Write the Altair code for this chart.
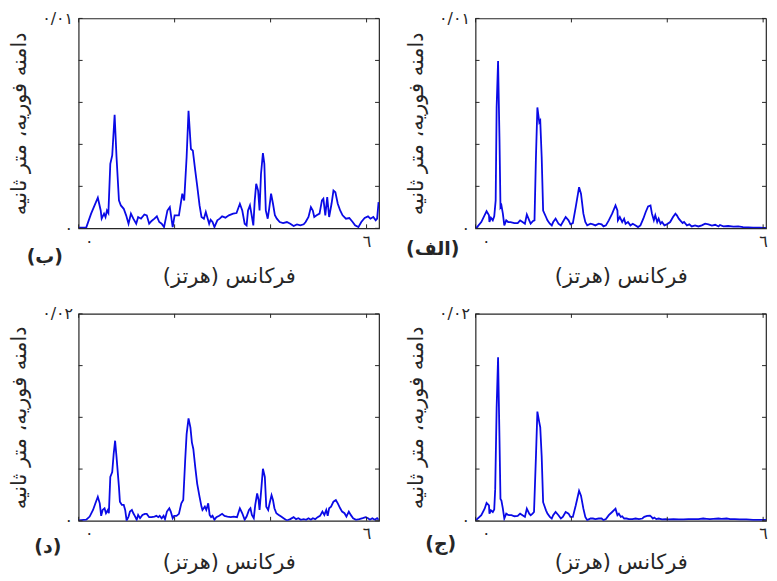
import altair as alt
import pandas as pd

FONT = "DejaVu Sans"
TC = "#262626"
LINE = "#0a0ae6"

# ---------------- data (frequency in Hz, Fourier amplitude in 1e-3 m/s) ----------------
# panel (ب) – top left
b_freq = [0.00, 0.16, 0.26, 0.40, 0.46, 0.48, 0.53, 0.56, 0.59, 0.62,
          0.66, 0.70, 0.75, 0.79, 0.84, 0.88, 0.94, 0.99, 1.04, 1.09,
          1.14, 1.20, 1.24, 1.30, 1.37, 1.42, 1.47, 1.52, 1.58, 1.63,
          1.68, 1.73, 1.78, 1.85, 1.90, 1.96, 2.00, 2.09, 2.16, 2.20,
          2.25, 2.29, 2.34, 2.38, 2.43, 2.47, 2.52, 2.56, 2.61, 2.65,
          2.69, 2.72, 2.75, 2.79, 2.83, 2.89, 2.94, 2.99, 3.06, 3.13,
          3.22, 3.29, 3.36, 3.41, 3.46, 3.50, 3.53, 3.57, 3.60, 3.64,
          3.67, 3.70, 3.74, 3.77, 3.80, 3.84, 3.87, 3.90, 3.94, 3.97,
          4.01, 4.05, 4.09, 4.13, 4.19, 4.26, 4.34, 4.41, 4.48, 4.55,
          4.62, 4.69, 4.73, 4.79, 4.84, 4.88, 4.91, 4.96, 5.02, 5.07,
          5.10, 5.14, 5.18, 5.22, 5.27, 5.31, 5.35, 5.40, 5.45, 5.50,
          5.57, 5.64, 5.71, 5.76, 5.83, 5.89, 5.96, 6.03, 6.08, 6.14,
          6.19, 6.22, 6.25]
b_amp = [0.03, 0.05, 0.70, 1.46, 0.85, 0.46, 0.70, 0.54, 0.85, 0.73,
         3.07, 3.47, 5.41, 3.39, 1.33, 1.09, 0.93, 0.62, 0.22, 0.70,
         0.46, 0.22, 0.54, 0.46, 0.66, 0.62, 0.22, 0.35, 0.46, 0.57,
         0.30, 0.22, 0.06, 0.85, 1.01, 0.06, 0.62, 0.62, 1.65, 1.33,
         3.39, 5.60, 3.78, 3.70, 2.75, 2.04, 1.09, 0.54, 0.46, 0.78,
         0.46, 0.22, 0.41, 0.30, 0.06, 0.38, 0.46, 0.57, 0.51, 0.62,
         0.70, 0.73, 1.17, 0.85, 0.22, 0.14, 0.85, 1.09, 0.70, 0.14,
         1.33, 2.12, 1.80, 0.85, 2.59, 3.58, 3.07, 0.85, 0.46, 0.93,
         1.65, 1.17, 0.62, 0.46, 0.30, 0.25, 0.30, 0.22, 0.11, 0.19,
         0.14, 0.19, 0.30, 0.54, 1.01, 0.85, 0.54, 0.62, 0.70, 1.33,
         1.41, 0.62, 1.49, 0.54, 1.17, 1.80, 1.72, 1.17, 0.85, 0.62,
         0.46, 0.49, 0.30, 0.14, 0.06, 0.30, 0.49, 0.57, 0.46, 0.54,
         0.38, 0.46, 1.25]

# panel (الف) – top right
alef_freq = [0.01, 0.12, 0.23, 0.28, 0.29, 0.32, 0.36, 0.39, 0.42, 0.44,
             0.47, 0.50, 0.52, 0.54, 0.57, 0.60, 0.64, 0.68, 0.73, 0.81,
             0.88, 0.93, 0.98, 1.03, 1.07, 1.12, 1.15, 1.20, 1.23, 1.26,
             1.29, 1.33, 1.35, 1.38, 1.41, 1.47, 1.50, 1.55, 1.59, 1.62,
             1.67, 1.73, 1.78, 1.82, 1.88, 1.94, 1.98, 2.03, 2.09, 2.16,
             2.20, 2.25, 2.29, 2.33, 2.40, 2.45, 2.50, 2.57, 2.63, 2.67,
             2.72, 2.78, 2.85, 2.92, 2.96, 2.97, 3.01, 3.06, 3.10, 3.13,
             3.18, 3.23, 3.28, 3.34, 3.39, 3.44, 3.50, 3.55, 3.60, 3.65,
             3.68, 3.72, 3.75, 3.79, 3.82, 3.86, 3.89, 3.94, 3.99, 4.06,
             4.12, 4.17, 4.20, 4.24, 4.27, 4.32, 4.35, 4.41, 4.46, 4.51,
             4.58, 4.65, 4.72, 4.79, 4.86, 4.93, 5.00, 5.07, 5.10, 5.17,
             5.27, 5.38, 5.48, 5.58, 5.69, 5.79, 5.93, 6.05, 6.14]
alef_amp = [0.00, 0.30, 0.82, 0.62, 0.30, 0.51, 0.38, 0.57, 1.33, 5.76,
            7.97, 4.18, 1.01, 1.09, 0.70, 0.14, 0.38, 0.30, 0.30, 0.25,
            0.25, 0.38, 0.30, 0.22, 0.66, 0.38, 0.22, 0.35, 0.38, 3.39,
            5.76, 5.05, 5.13, 3.39, 0.85, 0.54, 0.38, 0.22, 0.14, 0.30,
            0.46, 0.22, 0.14, 0.30, 0.54, 0.38, 0.19, 0.25, 1.01, 1.96,
            1.65, 0.70, 0.30, 0.14, 0.22, 0.19, 0.14, 0.22, 0.19, 0.09,
            0.14, 0.38, 0.70, 1.09, 0.85, 0.38, 0.54, 0.30, 0.46, 0.22,
            0.30, 0.14, 0.22, 0.14, 0.06, 0.14, 0.46, 0.78, 1.04, 1.09,
            0.70, 0.38, 0.62, 0.30, 0.46, 0.22, 0.30, 0.14, 0.19, 0.30,
            0.54, 0.70, 0.62, 0.46, 0.38, 0.25, 0.30, 0.14, 0.19, 0.09,
            0.14, 0.09, 0.14, 0.22, 0.19, 0.13, 0.17, 0.09, 0.16, 0.09,
            0.11, 0.08, 0.09, 0.06, 0.05, 0.03, 0.03, 0.02, 0.02]

# panel (د) – bottom left
dal_freq = [0.00, 0.16, 0.23, 0.30, 0.35, 0.40, 0.44, 0.47, 0.50, 0.54,
            0.57, 0.61, 0.63, 0.66, 0.70, 0.73, 0.76, 0.79, 0.84, 0.86,
            0.90, 0.94, 0.97, 1.00, 1.04, 1.07, 1.11, 1.14, 1.17, 1.21,
            1.24, 1.28, 1.33, 1.38, 1.42, 1.47, 1.52, 1.58, 1.62, 1.66,
            1.69, 1.73, 1.77, 1.80, 1.84, 1.89, 1.92, 1.96, 1.99, 2.04,
            2.09, 2.14, 2.18, 2.22, 2.25, 2.29, 2.33, 2.36, 2.39, 2.43,
            2.47, 2.52, 2.56, 2.58, 2.63, 2.66, 2.70, 2.73, 2.76, 2.79,
            2.83, 2.87, 2.93, 2.99, 3.04, 3.10, 3.17, 3.23, 3.30, 3.36,
            3.41, 3.46, 3.50, 3.55, 3.58, 3.61, 3.65, 3.68, 3.72, 3.75,
            3.77, 3.81, 3.84, 3.88, 3.91, 3.95, 3.98, 4.02, 4.05, 4.08,
            4.12, 4.17, 4.22, 4.27, 4.34, 4.41, 4.48, 4.53, 4.58, 4.63,
            4.69, 4.74, 4.79, 4.84, 4.88, 4.93, 4.98, 5.03, 5.08, 5.12,
            5.16, 5.19, 5.22, 5.26, 5.31, 5.36, 5.40, 5.45, 5.49, 5.54,
            5.58, 5.63, 5.67, 5.72, 5.78, 5.85, 5.92, 5.98, 6.03, 6.07,
            6.12, 6.17, 6.22, 6.25]
dal_amp = [0.03, 0.10, 0.41, 1.05, 1.69, 2.32, 1.69, 0.48, 1.05, 1.21,
           0.73, 1.05, 0.73, 4.24, 4.71, 6.46, 7.74, 6.15, 3.28, 1.85,
           1.53, 1.53, 1.05, 0.03, 0.41, 0.89, 1.05, 0.73, 0.48, 0.10,
           0.57, 0.25, 0.57, 0.67, 0.67, 0.35, 0.35, 0.41, 0.48, 0.35,
           0.48, 0.25, 0.48, 0.16, 0.89, 1.21, 0.89, 0.25, 0.48, 0.48,
           0.67, 1.69, 2.01, 5.83, 8.38, 9.90, 9.01, 7.58, 6.94, 5.19,
           3.60, 2.32, 1.37, 1.05, 1.37, 1.05, 1.69, 0.57, 0.35, 0.48,
           0.10, 0.35, 0.48, 0.67, 0.48, 0.41, 0.35, 0.41, 0.35, 1.21,
           0.73, 0.10, 0.41, 1.05, 1.21, 0.57, 0.25, 1.53, 2.64, 2.01,
           1.05, 3.28, 5.03, 4.24, 1.37, 1.05, 1.69, 2.48, 2.01, 1.21,
           0.73, 0.57, 0.41, 0.25, 0.03, 0.16, 0.35, 0.16, 0.25, 0.10,
           0.16, 0.10, 0.25, 0.10, 0.25, 0.16, 0.35, 0.48, 0.89, 0.57,
           1.05, 0.48, 1.21, 1.37, 1.85, 2.01, 1.69, 1.21, 0.89, 0.73,
           0.41, 0.89, 0.57, 0.25, 0.10, 0.16, 0.25, 0.35, 0.25, 0.10,
           0.25, 0.10, 0.25, 0.10]

# panel (ج) – bottom right
jim_freq = [0.01, 0.12, 0.19, 0.23, 0.28, 0.29, 0.32, 0.36, 0.39, 0.41,
            0.44, 0.47, 0.50, 0.52, 0.54, 0.57, 0.60, 0.64, 0.67, 0.70,
            0.75, 0.81, 0.88, 0.93, 0.98, 1.03, 1.07, 1.12, 1.15, 1.19,
            1.22, 1.26, 1.29, 1.33, 1.35, 1.38, 1.41, 1.47, 1.50, 1.55,
            1.59, 1.62, 1.67, 1.73, 1.78, 1.82, 1.88, 1.94, 1.98, 2.03,
            2.09, 2.16, 2.20, 2.25, 2.29, 2.33, 2.40, 2.45, 2.50, 2.57,
            2.63, 2.67, 2.72, 2.78, 2.85, 2.92, 2.96, 2.99, 3.03, 3.06,
            3.10, 3.15, 3.20, 3.27, 3.34, 3.41, 3.48, 3.52, 3.58, 3.64,
            3.67, 3.70, 3.73, 3.77, 3.82, 3.89, 3.96, 4.03, 4.13, 4.24,
            4.34, 4.44, 4.55, 4.65, 4.75, 4.82, 4.89, 4.96, 5.07, 5.13,
            5.24, 5.31, 5.41, 5.51, 5.65, 5.79, 5.93, 6.05, 6.14]
jim_amp = [0.06, 0.54, 1.17, 1.73, 1.48, 0.69, 1.01, 0.85, 1.10, 3.06,
           10.93, 15.81, 7.78, 2.11, 1.95, 1.17, 0.22, 0.69, 0.60, 0.54,
           0.54, 0.44, 0.47, 0.69, 0.54, 0.38, 1.17, 0.69, 0.54, 0.69,
           0.85, 6.20, 10.55, 9.51, 9.04, 6.20, 1.80, 1.01, 0.69, 0.38,
           0.22, 0.54, 0.85, 0.54, 0.22, 0.38, 0.85, 0.69, 0.38, 0.38,
           1.48, 2.90, 2.43, 1.17, 0.38, 0.06, 0.22, 0.22, 0.16, 0.22,
           0.22, 0.06, 0.16, 0.54, 0.85, 1.17, 0.54, 0.69, 0.38, 0.44,
           0.22, 0.22, 0.16, 0.16, 0.22, 0.16, 0.22, 0.38, 0.47, 0.50,
           0.38, 0.22, 0.31, 0.16, 0.22, 0.13, 0.16, 0.13, 0.16, 0.13,
           0.13, 0.16, 0.16, 0.16, 0.22, 0.19, 0.16, 0.19, 0.22, 0.19,
           0.22, 0.16, 0.16, 0.13, 0.13, 0.09, 0.09, 0.09, 0.09]

x_ticks = [0, 2, 4, 6]
y_ticks_top = [0, 0.002, 0.004, 0.006, 0.008, 0.010]
y_ticks_bottom = [0, 0.005, 0.010, 0.015, 0.020]

X_TITLE = "\u200fفرکانس (هرتز)\u200f"
Y_TITLE = "دامنه فوریه، متر ثانیه"
ZERO = "٠"
SIX = "٦"


def panel(freq, amp, xmax, W, H, ymax, yticks, ytop_label, tag, tdx, tdy, xtp):
    df = pd.DataFrame({"f": freq, "a": [v / 1000.0 for v in amp]})
    xs = alt.Scale(domain=[0, xmax], nice=False, zero=False)
    ys = alt.Scale(domain=[0, ymax], nice=False, zero=False)
    xaxis = alt.Axis(values=[0, 6], labelExpr=f"datum.value == 0 ? '{ZERO}' : '{SIX}'",
                     ticks=False, domain=False, grid=False,
                     labelFlush=True, labelFlushOffset=-6,
                     labelPadding=5, labelFontSize=16, labelColor=TC,
                     title=X_TITLE, titleFontSize=21, titleFontWeight="normal",
                     titleColor=TC, titlePadding=xtp)
    yaxis = alt.Axis(values=[0, ymax], labelExpr=f"datum.value == 0 ? '{ZERO}' : '{ytop_label}'",
                     ticks=False, domain=False, grid=False,
                     labelPadding=6, labelFontSize=16, labelColor=TC,
                     title=Y_TITLE, titleFontSize=21, titleFontWeight="normal",
                     titleColor=TC, titlePadding=12)
    line = alt.Chart(df).mark_line(color=LINE, strokeWidth=1.8, clip=True).encode(
        x=alt.X("f:Q", scale=xs, axis=xaxis),
        y=alt.Y("a:Q", scale=ys, axis=yaxis),
    )
    xt = pd.DataFrame({"f": x_ticks})
    yt = pd.DataFrame({"a": yticks})
    tk = dict(color=TC, strokeWidth=1)
    t_bottom = alt.Chart(xt).mark_rule(**tk).encode(
        x=alt.X("f:Q", scale=xs, axis=xaxis), y=alt.value(H), y2=alt.value(H - 4))
    t_top = alt.Chart(xt).mark_rule(**tk).encode(
        x=alt.X("f:Q", scale=xs, axis=xaxis), y=alt.value(0), y2=alt.value(4))
    t_left = alt.Chart(yt).mark_rule(**tk).encode(
        y=alt.Y("a:Q", scale=ys, axis=yaxis), x=alt.value(0), x2=alt.value(4))
    t_right = alt.Chart(yt).mark_rule(**tk).encode(
        y=alt.Y("a:Q", scale=ys, axis=yaxis), x=alt.value(W), x2=alt.value(W - 4))
    label = alt.Chart(pd.DataFrame({"t": [tag]})).mark_text(
        font=FONT, fontSize=19, fontWeight="bold", color=TC, align="center", baseline="middle"
    ).encode(text="t:N", x=alt.value(tdx), y=alt.value(H + tdy))
    return alt.layer(line, t_bottom, t_top, t_left, t_right, label).properties(width=W, height=H)


tl = panel(b_freq, b_amp, 6.26, 302, 211, 0.01, y_ticks_top, "٠/٠١", "(ب)", -34, 29, 16)
tr = panel(alef_freq, alef_amp, 6.06, 292, 211, 0.01, y_ticks_top, "٠/٠١", "(الف)", -43, 21, 16)
bl = panel(dal_freq, dal_amp, 6.26, 302, 208, 0.02, y_ticks_bottom, "٠/٠٢", "(د)", -31, 26, 10)
br = panel(jim_freq, jim_amp, 6.06, 292, 208, 0.02, y_ticks_bottom, "٠/٠٢", "(ج)", -35, 23, 10)

chart = alt.vconcat(
    alt.hconcat(tl, tr, spacing=24),
    alt.hconcat(bl, br, spacing=24),
    spacing=18,
).properties(
    padding={"left": 0, "top": 0, "right": 0, "bottom": 0}
).configure(
    font=FONT
).configure_view(
    stroke=TC, strokeWidth=1.2
).configure_axis(
    labelFont=FONT, titleFont=FONT
)

chart.save("out.html", embed_options={"renderer": "svg", "actions": False})
